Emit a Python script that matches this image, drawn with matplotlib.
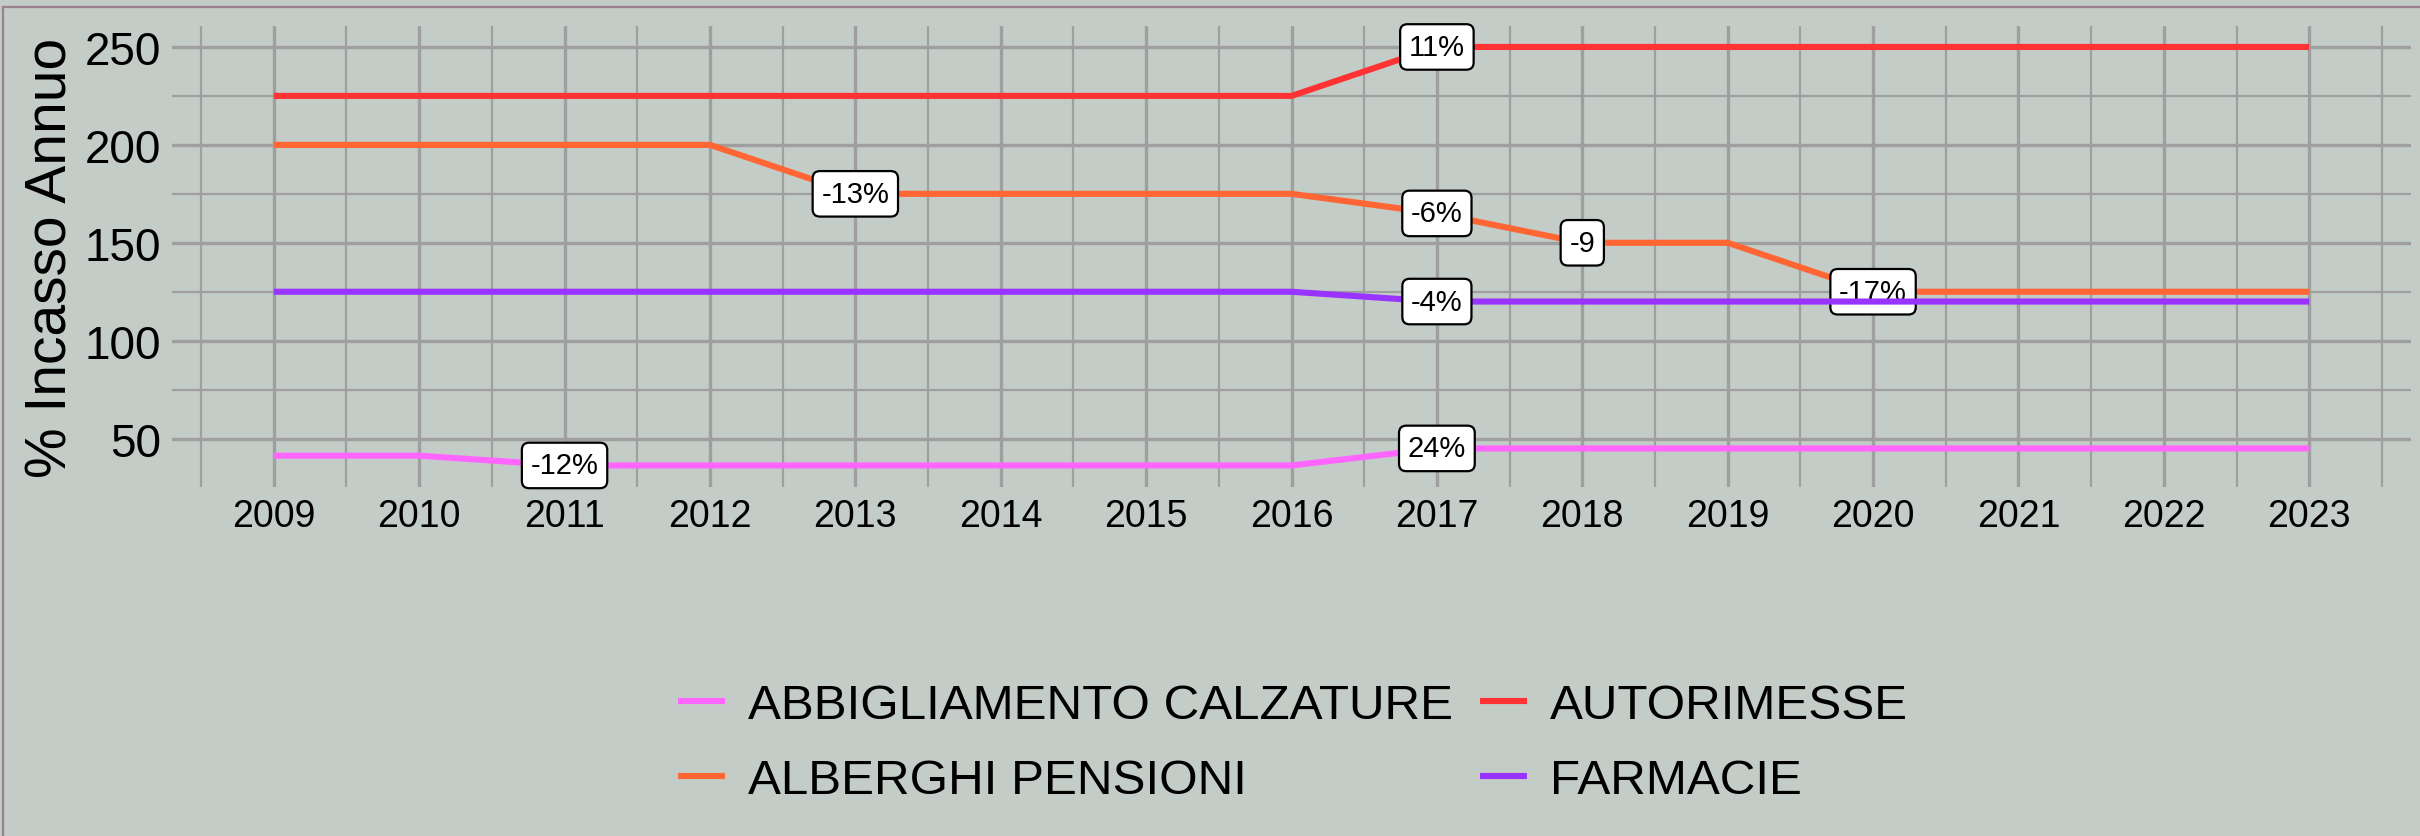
import numpy as np
import matplotlib
matplotlib.use('Agg')
import matplotlib.pyplot as plt
from matplotlib.lines import Line2D
from matplotlib.ticker import MultipleLocator

plt.rcParams['font.family'] = ['Liberation Sans', 'DejaVu Sans']

# data
years = list(range(2009, 2024))
abbigliamento = [41.3, 41.3, 36.3, 36.3, 36.3, 36.3, 36.3, 36.3, 45, 45, 45, 45, 45, 45, 45]
alberghi = [200, 200, 200, 200, 175, 175, 175, 175, 165, 150, 150, 125, 125, 125, 125]
autorimesse = [225, 225, 225, 225, 225, 225, 225, 225, 250, 250, 250, 250, 250, 250, 250]
farmacie = [125, 125, 125, 125, 125, 125, 125, 125, 120, 120, 120, 120, 120, 120, 120]

series_names = ['ABBIGLIAMENTO CALZATURE', 'ALBERGHI PENSIONI', 'AUTORIMESSE', 'FARMACIE']
series_values = [abbigliamento, alberghi, autorimesse, farmacie]
series_colors = ['#FF66FF', '#FF6633', '#FF3333', '#9933FF']

# change labels per series: (year, text)
labels_abb = [(2011, '-12%'), (2017, '24%')]
labels_alb = [(2013, '-13%'), (2017, '-6%'), (2018, '-9'), (2020, '-17%')]
labels_aut = [(2017, '11%')]
labels_far = [(2017, '-4%')]
series_labels = [labels_abb, labels_alb, labels_aut, labels_far]

bg = '#C3CCC7'
gridc = '#9F9F9F'

W, H = 2420, 837
fig = plt.figure(figsize=(W / 100, H / 100), dpi=100, facecolor=bg)
ax = fig.add_axes([172 / W, 1 - 488 / H, (2411 - 172) / W, (488 - 27) / H])
ax.set_facecolor(bg)

z = 3
for name, vals, col, labs in zip(series_names, series_values, series_colors, series_labels):
    ax.plot(years, vals, color=col, lw=4.4, label=name, zorder=z, solid_capstyle='butt')
    z += 1
    for yr, txt in labs:
        yv = vals[years.index(yr)]
        ax.text(yr, yv, txt, ha='center', va='center', fontsize=21, color='black', zorder=z,
                bbox=dict(boxstyle='round,pad=0.3,rounding_size=0.25', fc='white', ec='black', lw=1.6))
    z += 1

ax.set_xlim(2008.3, 2023.7)
ax.set_ylim(25.3, 260.7)
ax.set_xticks(years)
ax.set_yticks([50, 100, 150, 200, 250])
ax.xaxis.set_minor_locator(MultipleLocator(0.5))
ax.yaxis.set_minor_locator(MultipleLocator(25))
ax.grid(which='major', color=gridc, lw=2.4, zorder=0)
ax.grid(which='minor', color=gridc, lw=1.6, zorder=0)
ax.set_axisbelow(True)
for s in ax.spines.values():
    s.set_visible(False)
ax.tick_params(which='both', length=0)
ax.tick_params(axis='x', labelsize=27, pad=8)
ax.tick_params(axis='y', labelsize=33, pad=8)
ax.set_ylabel('% Incasso Annuo', fontsize=41, labelpad=4)

leg = fig.legend(loc='center', bbox_to_anchor=(0.5343, 0.111), ncol=2, frameon=False,
                 fontsize=35.6, handlelength=0.95, handletextpad=0.47, columnspacing=0.55,
                 labelspacing=0.6)
for h in leg.get_lines():
    h.set_linewidth(4.4)

# outer border (left and top edges visible)
fig.add_artist(Line2D([3 / W, 3 / W], [0, 1 - 8 / H], color='#9A7F8D', lw=1.6))
fig.add_artist(Line2D([3 / W, 1], [1 - 8 / H, 1 - 8 / H], color='#9A7F8D', lw=1.6))

fig.savefig('out.png', dpi=100, facecolor=bg)
